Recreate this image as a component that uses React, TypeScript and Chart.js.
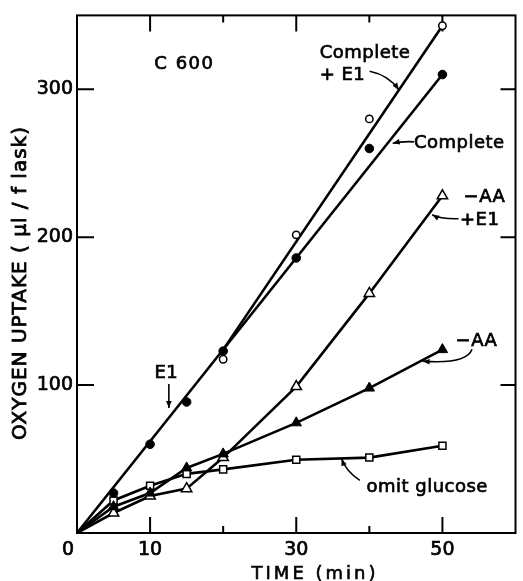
import React, { useEffect, useRef } from "react";
import { Chart, registerables } from "chart.js";

Chart.register(...registerables);

// ---------- data ----------
const xTickLabels = ["0", "10", "30", "50"];
const yTickLabels = ["100", "200", "300"];
const xMajorTicks = [10, 30, 50];
const xMinorTicks = [20, 40];
const yMajorTicks = [100, 200, 300];

const times = [5, 10, 15, 20, 30, 40, 50];
const completeValues = [27, 60, 88.6, 123, 186, 260, 310];
const completeE1Times = [20, 30, 40, 50];
const completeE1Values = [117.5, 201.6, 280, 343];
const minusAAE1Values = [13.5, 25, 30, 51, 99, 162, 228];
const minusAAValues = [17.8, 27, 44, 53.5, 74.5, 98, 124];
const omitGlucoseValues = [22, 32, 40, 43, 49.5, 51, 59];

// fitted lines drawn in the figure
const completeFitTimes = [0, 50];
const completeFitValues = [0, 310];
const completeE1FitTimes = [20, 50];
const completeE1FitValues = [124, 343];
const originTime = 0;
const originValue = 0;

const annotationTexts = ["C 600", "Complete", "+ E1", "Complete", "−AA", "+E1", "−AA", "omit glucose", "E1"];

// ---------- layout (data-space positions of annotations) ----------
const labelPlacement = [
  { x: 14.7, y: 313.7, align: "center" },
  { x: 33.2, y: 321.4, align: "left" },
  { x: 33.2, y: 306.3, align: "left" },
  { x: 46.1, y: 260.6, align: "left" },
  { x: 52.9, y: 223.7, align: "left" },
  { x: 52.4, y: 208.2, align: "left" },
  { x: 51.8, y: 126.3, align: "left" },
  { x: 39.6, y: 27.5, align: "left" },
  { x: 12.23, y: 104.8, align: "center" },
];

const arrowPaths = [
  { from: [40.04, 312.2], ctrl: [42.6, 309.7], to: [44.05, 299.6] },
  { from: [46.1, 264.5], ctrl: [44.6, 265], to: [43.2, 263.5] },
  { from: [52.2, 212.5], ctrl: [49.7, 212.2], to: [48.6, 215.2] },
  { from: [54.05, 124.3], ctrl: [53.3, 114], to: [47.3, 116.2] },
  { from: [38.7, 35.6], ctrl: [36.9, 41.2], to: [36.2, 50.2] },
  { from: [12.57, 100.8], ctrl: [12.57, 92.7], to: [12.57, 84.6] },
];

const FONT = '"DejaVu Sans", "Liberation Sans", sans-serif';

const pts = (xs: number[], ys: number[]) => xs.map((x, i) => ({ x, y: ys[i] }));
const withOrigin = (xs: number[], ys: number[]) => [{ x: originTime, y: originValue }, ...pts(xs, ys)];

function boldText(ctx: CanvasRenderingContext2D, t: string, x: number, y: number, w = 0.7) {
  ctx.fillText(t, x, y);
  ctx.lineWidth = w;
  ctx.strokeText(t, x, y);
}

const decorPlugin = {
  id: "decor",
  beforeDatasetsDraw(chart: any) {
    const { ctx, chartArea: a, scales } = chart;
    const xs = scales.x;
    const ys = scales.y;
    ctx.save();
    ctx.strokeStyle = "#000";
    ctx.lineWidth = 2;
    ctx.strokeRect(a.left, a.top, a.right - a.left, a.bottom - a.top);
    ctx.beginPath();
    for (const v of xMajorTicks) {
      const p = xs.getPixelForValue(v);
      ctx.moveTo(p, a.bottom);
      ctx.lineTo(p, a.bottom - 16);
      ctx.moveTo(p, a.top);
      ctx.lineTo(p, a.top + 16);
    }
    for (const v of xMinorTicks) {
      const p = xs.getPixelForValue(v);
      ctx.moveTo(p, a.bottom);
      ctx.lineTo(p, a.bottom - 7);
      ctx.moveTo(p, a.top);
      ctx.lineTo(p, a.top + 7);
    }
    for (const v of yMajorTicks) {
      const p = ys.getPixelForValue(v);
      ctx.moveTo(a.left, p);
      ctx.lineTo(a.left + 17, p);
      ctx.moveTo(a.right, p);
      ctx.lineTo(a.right - 15, p);
    }
    ctx.stroke();
    ctx.restore();
  },
  afterDatasetsDraw(chart: any) {
    const { ctx, scales } = chart;
    const xs = scales.x;
    const ys = scales.y;
    const P = (d: number[]) => [xs.getPixelForValue(d[0]), ys.getPixelForValue(d[1])];
    ctx.save();
    ctx.fillStyle = "#000";
    ctx.strokeStyle = "#000";
    // labels
    ctx.font = `18px ${FONT}`;
    ctx.textBaseline = "alphabetic";
    annotationTexts.forEach((t, i) => {
      const lp = labelPlacement[i];
      ctx.textAlign = lp.align;
      (ctx as any).letterSpacing = i === 0 ? "1.5px" : "0.5px";
      boldText(ctx, t, xs.getPixelForValue(lp.x), ys.getPixelForValue(lp.y));
    });
    (ctx as any).letterSpacing = "0px";
    // arrows
    for (const ar of arrowPaths) {
      const [fx, fy] = P(ar.from);
      const [cx, cy] = P(ar.ctrl);
      const [tx, ty] = P(ar.to);
      ctx.lineWidth = 1.6;
      ctx.beginPath();
      ctx.moveTo(fx, fy);
      ctx.quadraticCurveTo(cx, cy, tx, ty);
      ctx.stroke();
      const ang = Math.atan2(ty - cy, tx - cx);
      const L = 7, W = 2.8;
      ctx.beginPath();
      ctx.moveTo(tx, ty);
      ctx.lineTo(tx - L * Math.cos(ang) + W * Math.sin(ang), ty - L * Math.sin(ang) - W * Math.cos(ang));
      ctx.lineTo(tx - L * Math.cos(ang) - W * Math.sin(ang), ty - L * Math.sin(ang) + W * Math.cos(ang));
      ctx.closePath();
      ctx.fill();
    }
    // axis titles
    ctx.font = `18px ${FONT}`;
    ctx.textAlign = "center";
    (ctx as any).letterSpacing = "3px";
    boldText(ctx, "TIME (min)", 315, 579, 0.6);
    ctx.save();
    ctx.translate(26, 283);
    ctx.rotate(-Math.PI / 2);
    ctx.font = `20px ${FONT}`;
    (ctx as any).letterSpacing = "1px";
    boldText(ctx, "OXYGEN UPTAKE ( μl / f lask)", 0, 0, 0.8);
    ctx.restore();
    (ctx as any).letterSpacing = "0px";
    ctx.restore();
  },
};

export default function App() {
  const ref = useRef<HTMLCanvasElement | null>(null);
  useEffect(() => {
    if (!ref.current) return;
    const open = { backgroundColor: "#fff", borderColor: "#000", pointBorderWidth: 1.5 };
    const lineStyle = { showLine: true, borderColor: "#000", borderWidth: 2.6, pointRadius: 0, order: 5, tension: 0 };
    const tickFont = { family: FONT, size: 19 };
    const chart = new Chart(ref.current, {
      type: "scatter",
      data: {
        datasets: [
          { data: pts(times, completeValues), pointStyle: "circle", pointRadius: 4.3, backgroundColor: "#000", borderColor: "#000", pointBorderWidth: 1, order: 1 },
          { data: pts(completeE1Times, completeE1Values), pointStyle: "circle", pointRadius: 3.7, ...open, order: 1 },
          { data: pts(times, minusAAE1Values), pointStyle: "triangle", pointRadius: 6, ...open, order: 2 },
          { data: pts(times, minusAAValues), pointStyle: "triangle", pointRadius: 6, backgroundColor: "#000", borderColor: "#000", pointBorderWidth: 1, order: 1 },
          { data: pts(times, omitGlucoseValues), pointStyle: "rect", pointRadius: 5, ...open, order: 1 },
          { data: pts(completeFitTimes, completeFitValues), ...lineStyle },
          { data: pts(completeE1FitTimes, completeE1FitValues), ...lineStyle },
          { data: withOrigin(times, minusAAE1Values), ...lineStyle },
          { data: withOrigin(times, minusAAValues), ...lineStyle },
          { data: withOrigin(times, omitGlucoseValues), ...lineStyle },
        ] as any,
      },
      options: {
        responsive: false,
        animation: false,
        devicePixelRatio: 1,
        layout: { padding: { top: 12, right: 2, left: 0, bottom: 0 } },
        plugins: { legend: { display: false }, tooltip: { enabled: false } },
        scales: {
          x: {
            type: "linear",
            min: 0,
            max: 60,
            afterFit: (s: any) => { s.height = 48; },
            grid: { display: false, drawTicks: false },
            border: { display: false },
            ticks: {
              stepSize: 10,
              autoSkip: false,
              maxRotation: 0,
              padding: 6,
              color: "#000",
              textStrokeColor: "#000",
              textStrokeWidth: 0.7,
              font: tickFont,
              callback: (v: any) => {
                const s = String(v);
                if (!xTickLabels.includes(s)) return "";
                return s === "0" ? s + "   " : s;
              },
            },
          },
          y: {
            type: "linear",
            min: 0,
            max: 350,
            afterFit: (s: any) => { s.width = 77; },
            grid: { display: false, drawTicks: false },
            border: { display: false },
            ticks: {
              stepSize: 100,
              autoSkip: false,
              padding: 4,
              color: "#000",
              textStrokeColor: "#000",
              textStrokeWidth: 0.7,
              font: tickFont,
              callback: (v: any) => (yTickLabels.includes(String(v)) ? String(v) : ""),
            },
          },
        },
      } as any,
      plugins: [decorPlugin],
    });
    return () => chart.destroy();
  }, []);
  return (
    <canvas
      ref={ref}
      width={523}
      height={581}
      style={{ position: "absolute", left: 0, top: 0, width: 523, height: 581, display: "block" }}
    />
  );
}
